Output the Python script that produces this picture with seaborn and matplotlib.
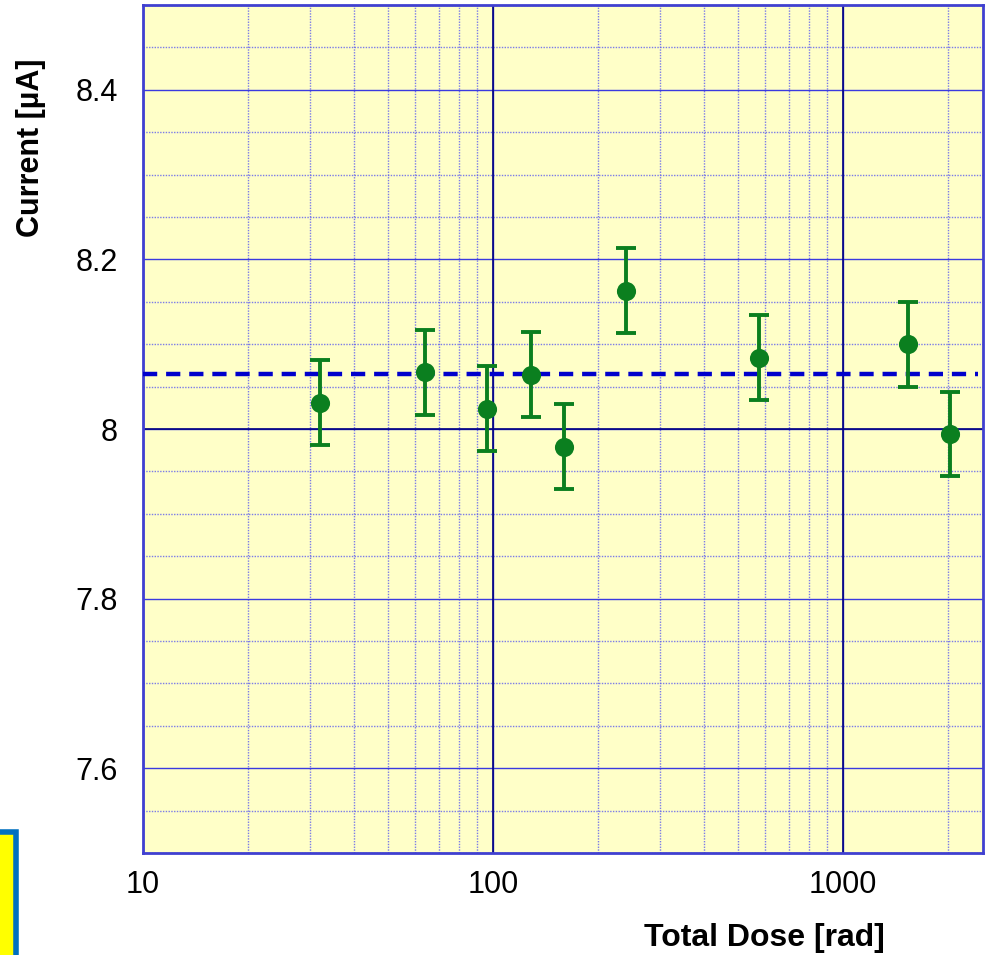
import numpy as np
import pandas as pd
import matplotlib
matplotlib.use('Agg')
import matplotlib.pyplot as plt
import matplotlib.ticker as mticker
from matplotlib.patches import Rectangle
import seaborn as sns

# data
dose = [32, 64, 96, 128, 160, 240, 576, 1536, 2016]
current = [8.031, 8.067, 8.024, 8.064, 7.979, 8.163, 8.084, 8.100, 7.994]
current_err = [0.05, 0.05, 0.05, 0.05, 0.05, 0.05, 0.05, 0.05, 0.05]
mean_current = 8.065
y_ticks = [7.6, 7.8, 8.0, 8.2, 8.4]
y_tick_labels = ['7.6', '7.8', '8', '8.2', '8.4']
x_ticks = [10, 100, 1000]
x_tick_labels = ['10', '100', '1000']

df = pd.DataFrame({'dose': dose, 'current': current, 'err': current_err})

sns.set_theme(style='white')
plt.rcParams['font.family'] = ['Liberation Sans', 'DejaVu Sans']
plt.rcParams['text.color'] = 'black'
plt.rcParams['axes.labelcolor'] = 'black'
plt.rcParams['xtick.color'] = 'black'
plt.rcParams['ytick.color'] = 'black'

fig = plt.figure(figsize=(9.9, 9.55), dpi=100)
ax = fig.add_axes([143 / 990, 1 - 853 / 955, 840 / 990, 848 / 955])
ax.set_facecolor('#ffffc8')

ax.set_xscale('log')
ax.set_xlim(10, 2512)
ax.set_ylim(7.5, 8.5)

# grid
ax.set_xticks(x_ticks)
ax.set_xticklabels(x_tick_labels)
ax.xaxis.set_minor_locator(mticker.LogLocator(base=10, subs=np.arange(2, 10)))
ax.xaxis.set_minor_formatter(mticker.NullFormatter())
ax.set_yticks(y_ticks)
ax.set_yticklabels(y_tick_labels)
ax.yaxis.set_minor_locator(mticker.MultipleLocator(0.05))

ax.grid(which='major', color='#3a3ae0', lw=1.0, ls='-')
ax.grid(which='minor', color='#5a5af0', lw=1.0, ls=(0, (1, 1)), alpha=0.8)
ax.set_axisbelow(True)
for v in [100, 1000]:
    ax.axvline(v, color='#000080', lw=1.2, zorder=1)
ax.axhline(8.0, color='#000080', lw=1.2, zorder=1)

ax.tick_params(which='both', length=0)
ax.tick_params(axis='y', pad=18, labelsize=22, labelcolor='black')
ax.tick_params(axis='x', pad=12, labelsize=22, labelcolor='black')

for s in ax.spines.values():
    s.set_color('#4040d0')
    s.set_linewidth(2)

# mean line
ax.hlines(mean_current, 10, 2430, colors='#0000cc', lw=3.2,
          linestyles=(0, (3.2, 2.0)), zorder=3)

# points with error bars
green = '#0b7f1f'
ax.errorbar(df['dose'], df['current'], yerr=df['err'], fmt='none',
            ecolor=green, elinewidth=2.8, capsize=7, capthick=2.8, zorder=4)
sns.scatterplot(data=df, x='dose', y='current', ax=ax, color=green, s=190,
                edgecolor=green, linewidth=0, zorder=5, legend=False)

ax.set_xlabel('Total Dose [rad]', fontsize=23, fontweight='bold', ha='right',
              color='black')
ax.xaxis.set_label_coords(0.883, -0.083)
ax.set_ylabel('Current [\u00b5A]', fontsize=22, fontweight='bold', ha='right',
              color='black')
ax.yaxis.set_label_coords(-0.116, 0.9375)

# partial box at lower left
fig.patches.append(Rectangle((-0.01, -0.01), 16 / 990 + 0.01, (955 - 832) / 955 + 0.01,
                             transform=fig.transFigure, facecolor='#ffff00',
                             edgecolor='#0070c0', lw=4, zorder=10))

fig.savefig('out.png', dpi=100)
